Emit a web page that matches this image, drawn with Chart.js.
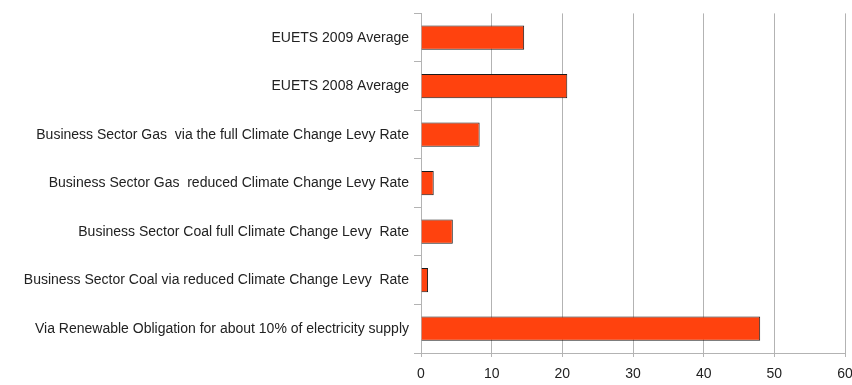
<!DOCTYPE html>
<html>
<head>
<meta charset="utf-8">
<script src="https://cdn.jsdelivr.net/npm/chart.js@4"></script>
<style>
  html, body { margin: 0; padding: 0; background: #fff; }
  #wrap { width: 852px; height: 385px; }
</style>
</head>
<body>
<div id="wrap"><canvas id="chart" width="852" height="385"></canvas></div>
<script>
const categories = [
  "EUETS 2009 Average",
  "EUETS 2008 Average",
  "Business Sector Gas  via the full Climate Change Levy Rate",
  "Business Sector Gas  reduced Climate Change Levy Rate",
  "Business Sector Coal full Climate Change Levy  Rate",
  "Business Sector Coal via reduced Climate Change Levy  Rate",
  "Via Renewable Obligation for about 10% of electricity supply"
];
const values = [14.6, 20.7, 8.3, 1.8, 4.5, 1.0, 48];
const xTicks = [0, 10, 20, 30, 40, 50, 60];

const ctx = document.getElementById("chart").getContext("2d");

new Chart(ctx, {
  type: "bar",
  data: {
    labels: categories,
    datasets: [{
      data: values,
      backgroundColor: "#ff420e",
      borderColor: "#1a1a1a",
      borderWidth: 1,
      categoryPercentage: 1,
      barPercentage: 0.5
    }]
  },
  options: {
    indexAxis: "y",
    responsive: false,
    animation: false,
    layout: { padding: { top: 12, right: 7, left: 0, bottom: 0 } },
    plugins: { legend: { display: false }, tooltip: { enabled: false } },
    scales: {
      x: {
        min: 0,
        max: 60,
        afterBuildTicks: s => { s.ticks = xTicks.map(v => ({ value: v })); },
        // let the "60" hang over the right edge like in the original
        afterFit: s => { s.height = 32; s.paddingRight = 0; s.paddingLeft = 0; },
        grid: { color: "#b3b3b3", tickLength: 4 },
        border: { color: "#b3b3b3" },
        ticks: {
          padding: 9,
          color: "#222",
          font: { family: "Liberation Sans", size: 14 }
        }
      },
      y: {
        afterFit: s => { s.width = 421; },
        grid: { drawOnChartArea: false, color: "#b3b3b3", tickLength: 7 },
        border: { color: "#b3b3b3" },
        ticks: {
          padding: 5,
          color: "#222",
          font: { family: "Liberation Sans", size: 14 }
        }
      }
    }
  }
});
</script>
</body>
</html>
